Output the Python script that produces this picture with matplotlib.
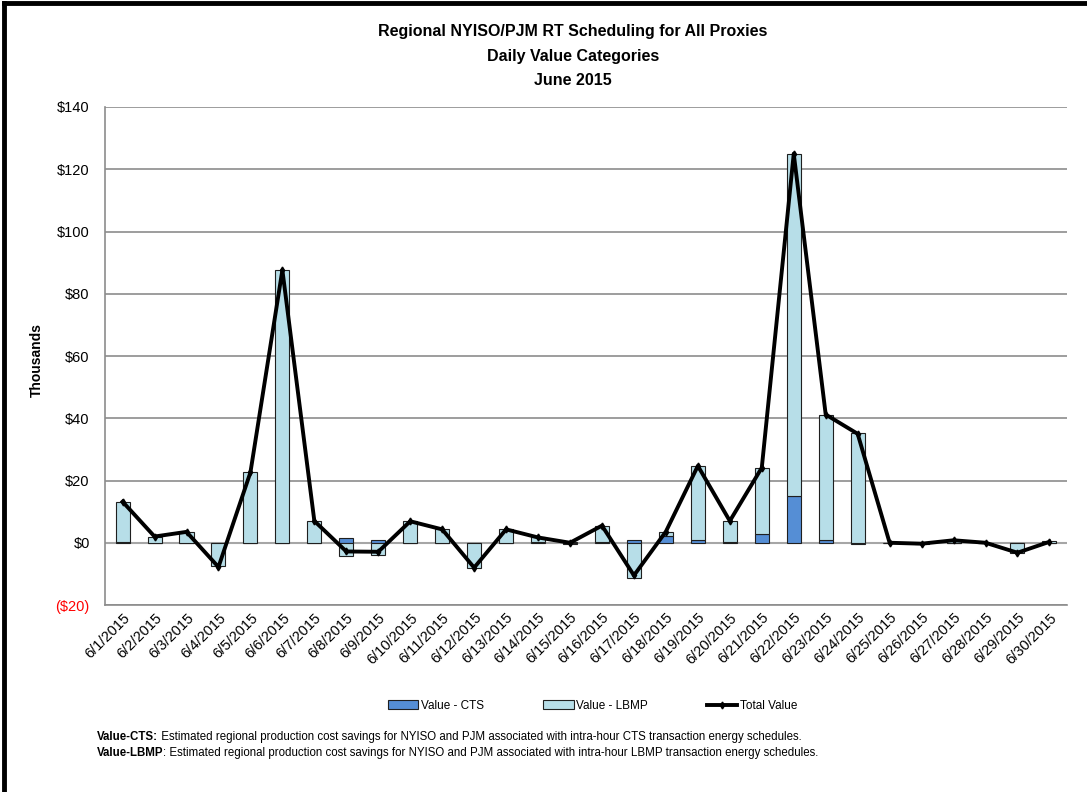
import numpy as np
import matplotlib
matplotlib.use("Agg")
import matplotlib.pyplot as plt
from matplotlib.lines import Line2D

plt.rcParams["font.family"] = ["Liberation Sans", "DejaVu Sans"]

dates = [f"6/{d}/2015" for d in range(1, 31)]
# values in thousands of dollars
cts = [0.3, 0.0, 0.0, 0.0, 0.0, 0.0, 0.0, 1.5, 1.0, 0.0,
       0.0, 0.0, 0.0, 0.3, -0.3, 0.3, 0.8, 2.2, 0.8, 0.3,
       2.8, 15.0, 0.8, -0.3, 0.0, 0.0, 0.0, 0.0, 0.0, 0.0]
lbmp = [12.9, 2.0, 3.5, -7.5, 22.6, 87.6, 7.0, -4.3, -3.9, 6.9,
        4.3, -8.0, 4.3, 1.4, 0.3, 5.2, -11.3, 1.4, 23.9, 6.7,
        21.3, 110.0, 40.4, 35.3, 0.0, -0.3, 0.8, 0.0, -3.2, 0.5]
total = [13.2, 2.0, 3.5, -7.8, 22.6, 87.6, 7.0, -2.8, -2.9, 6.9,
         4.3, -8.0, 4.3, 1.7, 0.0, 5.5, -10.5, 3.6, 24.7, 7.0,
         24.1, 125.0, 41.2, 35.0, 0.0, -0.3, 0.8, 0.0, -3.2, 0.3]

CTS_COLOR = "#558ed5"
LBMP_COLOR = "#b7dee8"

fig = plt.figure(figsize=(10.87, 7.92), dpi=100)
ax = fig.add_axes([0.0966, 0.2361, 0.885, 0.6288])

x = np.arange(len(dates))
cts_a = np.array(cts)
lbmp_a = np.array(lbmp)
# Excel-style stacking: positives stack up, negatives stack down
lbmp_bottom = np.where(np.sign(lbmp_a) == np.sign(cts_a), cts_a, 0.0)

w = 0.44
ax.bar(x, cts_a, w, color=CTS_COLOR, edgecolor="#1f1f1f", lw=0.8, zorder=2)
ax.bar(x, lbmp_a, w, bottom=lbmp_bottom, color=LBMP_COLOR,
       edgecolor="#1f1f1f", lw=0.8, zorder=2)
ax.plot(x, total, color="black", lw=2.8, marker="d", ms=3.5, zorder=3)

ax.set_xlim(-0.55, len(dates) - 0.45)
ax.set_ylim(-20, 140)
ax.set_yticks(range(-20, 141, 20))
ylabels = [f"(${-v})" if v < 0 else f"${v}" for v in range(-20, 141, 20)]
ax.set_yticklabels(ylabels, fontsize=10.5)
ax.get_yticklabels()[0].set_color("red")
ax.yaxis.grid(True, color="#8c8c8c", lw=1.2, zorder=0)
ax.axhline(0, color="#a6a6a6", lw=1.5, zorder=1)
ax.set_axisbelow(True)
ax.tick_params(axis="y", length=0, pad=11)
ax.tick_params(axis="x", length=0, pad=4)

ax.set_xticks(x)
ax.set_xticklabels(dates, rotation=45, ha="right", rotation_mode="anchor",
                   fontsize=10.5)
for s in ["top", "right"]:
    ax.spines[s].set_visible(False)
for s in ["left", "bottom"]:
    ax.spines[s].set_color("#8c8c8c")
    ax.spines[s].set_linewidth(1.2)

fig.text(0.034, 0.545, "Thousands", rotation=90, ha="center", va="center",
         fontsize=10, fontweight="bold")

fig.text(0.527, 0.96, "Regional NYISO/PJM RT Scheduling for All Proxies",
         ha="center", va="center", fontsize=11.5, fontweight="bold")
fig.text(0.527, 0.929, "Daily Value Categories",
         ha="center", va="center", fontsize=11.5, fontweight="bold")
fig.text(0.527, 0.898, "June 2015",
         ha="center", va="center", fontsize=11.5, fontweight="bold")

handles = [
    plt.Rectangle((0, 0), 1, 1, facecolor=CTS_COLOR, edgecolor="#1f1f1f", lw=0.8),
    plt.Rectangle((0, 0), 1, 1, facecolor=LBMP_COLOR, edgecolor="#1f1f1f", lw=0.8),
    Line2D([], [], color="black", lw=2.8, marker="d", ms=3.5),
]
fig.legend(handles, ["Value - CTS", "Value - LBMP", "Total Value"],
           loc="center", bbox_to_anchor=(0.545, 0.109), ncol=3, frameon=False,
           fontsize=8.5, handlelength=2.6, handleheight=0.7, columnspacing=5,
           handletextpad=0.2)

# footnotes: bold lead-in followed by regular text
renderer = fig.canvas.get_renderer()
notes = [
    ("Value-CTS:", " Estimated regional production cost savings for NYISO and PJM "
     "associated with intra-hour CTS transaction energy schedules.", 0.070),
    ("Value-LBMP", ": Estimated regional production cost savings for NYISO and PJM "
     "associated with intra-hour LBMP transaction energy schedules.", 0.049),
]
for lead, rest, yy in notes:
    t = fig.text(0.089, yy, lead, fontsize=8.3, va="center", fontweight="bold")
    bb = t.get_window_extent(renderer)
    fig.text(bb.x1 / fig.bbox.width, yy, rest, fontsize=8.3, va="center")

# outer chart border (top and left edges)
fig.add_artist(Line2D([0.004, 0.004], [0, 0.996], color="black", lw=3.5,
                      transform=fig.transFigure))
fig.add_artist(Line2D([0.004, 1.0], [0.996, 0.996], color="black", lw=3.5,
                      transform=fig.transFigure))

fig.savefig("out.png", dpi=100)
